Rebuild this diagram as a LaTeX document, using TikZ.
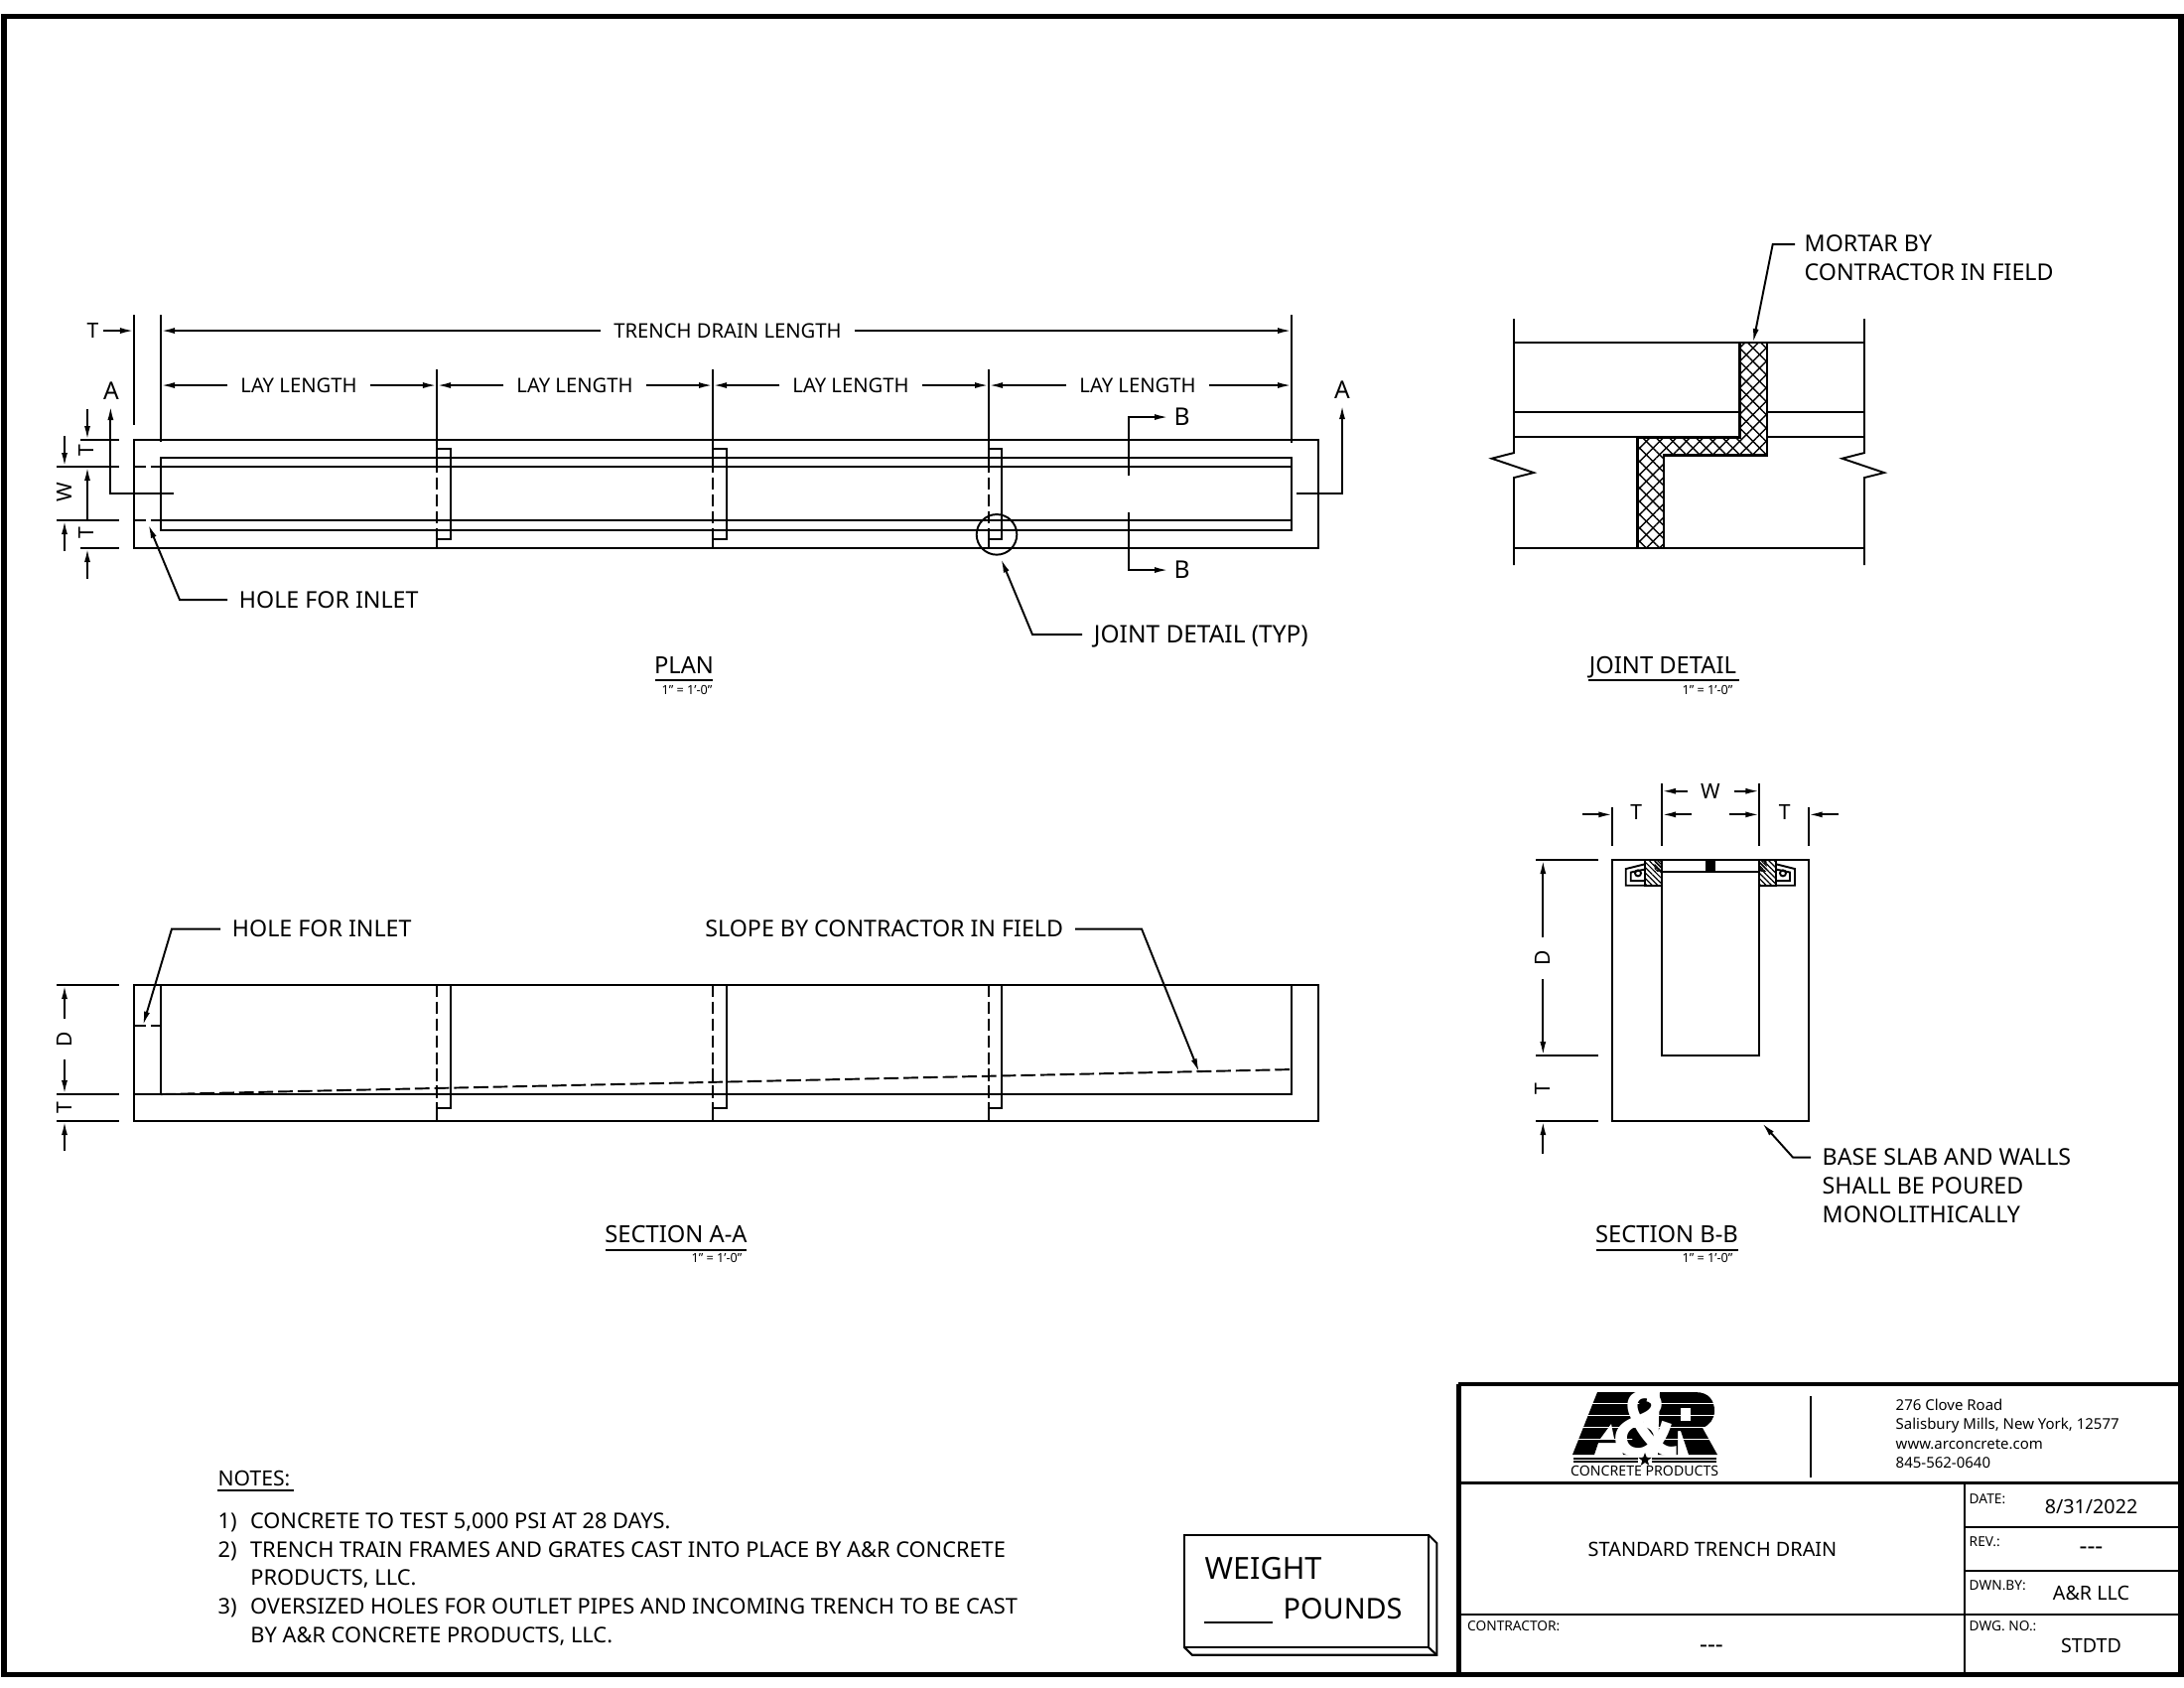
\documentclass[tikz,border=0pt]{standalone}
\usepackage{fontspec}
\setmainfont{Noto Sans}
\newfontfamily\logofont{Liberation Sans}
\usetikzlibrary{arrows.meta,patterns.meta,shapes.geometric}

\begin{document}
\begin{tikzpicture}[x=0.01cm, y=-0.01cm,
    every node/.style={font=\fontsize{6}{8.3}\selectfont, inner sep=0pt},
    obj/.style={line width=0.55pt},
    dimline/.style={line width=0.55pt, -{Latex[length=1.4mm,width=0.6mm]}},
    hiddenline/.style={line width=0.55pt, dash pattern=on 3.5pt off 1.3pt},
    lbl/.style={font=\fontsize{5.75}{7}\selectfont, text height=4.2pt, text depth=0pt, outer sep=3.7pt},
    tightlbl/.style={text height=4.3pt, text depth=0pt, outer sep=1.4pt},
    bare/.style={text height=4.3pt, text depth=0pt},
    cutmark/.style={font=\fontsize{7}{8}\selectfont, text height=5pt, text depth=0pt},
    call/.style={font=\fontsize{6.6}{8.3}\selectfont, text height=4.7pt, text depth=0pt, outer sep=3.4pt},
    callblock/.style={font=\fontsize{6.6}{8.3}\selectfont, anchor=north west, align=left},
    viewtitle/.style={font=\fontsize{6.75}{8}\selectfont, text height=4.8pt, text depth=0pt},
    scalenote/.style={font=\fontsize{3.6}{4}\selectfont},
    smalltag/.style={font=\fontsize{3.9}{5}\selectfont, anchor=west},
    blockval/.style={font=\fontsize{5.6}{7}\selectfont},
    blankval/.style={font=\fontsize{7}{8}\selectfont},
    addr/.style={font=\fontsize{4.26}{5.55}\selectfont, align=left, anchor=north west},
    bigword/.style={anchor=west, text height=6.4pt, text depth=0pt},
]
    \useasboundingbox (0,0) rectangle (2200,1700);
    \begin{scope}[yshift=-0.3pt]

    % Sheet frame
    \draw[line width=1.45pt] (4,15.5) rectangle (2197,1685);

    % Plan
    \draw[obj] (135,442) rectangle (1328,551);
    \draw[obj] (162,460) rectangle (1301,533);
    \draw[obj] (162,469) -- (1301,469);
    \draw[obj] (162,523) -- (1301,523);
    \draw[hiddenline] (135,469) -- (162,469);
    \draw[hiddenline] (135,523) -- (162,523);

    % Plan joints
    \draw[obj] (440,371) -- (440,463);
    \draw[hiddenline] (440,463) -- (440,537);
    \draw[obj] (440,537) -- (440,551);
    \draw[obj] (440,451) -- (454,451) -- (454,542) -- (440,542);

    \draw[obj] (718,371) -- (718,463);
    \draw[hiddenline] (718,463) -- (718,537);
    \draw[obj] (718,537) -- (718,551);
    \draw[obj] (718,451) -- (732,451) -- (732,542) -- (718,542);

    \draw[obj] (996,371) -- (996,463);
    \draw[hiddenline] (996,463) -- (996,537);
    \draw[obj] (996,537) -- (996,551);
    \draw[obj] (996,451) -- (1009,451) -- (1009,542) -- (996,542);
    \draw[obj] (1004,537.3) circle (20.3);

    % Plan length dimensions
    \draw[obj] (135,316) -- (135,427);
    \draw[obj] (162,316) -- (162,444);
    \draw[obj] (1301,316) -- (1301,445);

    \node[tightlbl] (planWallT) at (93.6,332) {T};
    \draw[dimline] (planWallT.east) -- (135,332);

    \node[lbl] (drainLen) at (733,332) {TRENCH DRAIN LENGTH};
    \draw[dimline] (drainLen.west) -- (162,332);
    \draw[dimline] (drainLen.east) -- (1301,332);

    \node[lbl] (layOne) at (301,387) {LAY LENGTH};
    \draw[dimline] (layOne.west) -- (162,387);
    \draw[dimline] (layOne.east) -- (440,387);
    \node[lbl] (layTwo) at (579,387) {LAY LENGTH};
    \draw[dimline] (layTwo.west) -- (440,387);
    \draw[dimline] (layTwo.east) -- (718,387);
    \node[lbl] (layThree) at (857,387) {LAY LENGTH};
    \draw[dimline] (layThree.west) -- (718,387);
    \draw[dimline] (layThree.east) -- (996,387);
    \node[lbl] (layFour) at (1146,387) {LAY LENGTH};
    \draw[dimline] (layFour.west) -- (996,387);
    \draw[dimline] (layFour.east) -- (1301,387);

    % Plan width dimensions
    \draw[obj] (81,442) -- (120,442);
    \draw[obj] (57,469) -- (120,469);
    \draw[obj] (57,523) -- (120,523);
    \draw[obj] (81,551) -- (120,551);
    \draw[dimline] (88,411) -- (88,442);
    \draw[dimline] (88,582) -- (88,551);
    \draw[dimline] (65,438) -- (65,469);
    \draw[dimline] (65,554) -- (65,523);
    \draw[dimline, {Latex[length=1.4mm,width=0.6mm]}-] (88,469) -- (88,523);
    \node[rotate=90, bare] (planTopT) at (87,453) {T};
    \node[rotate=90, bare] (planBotT) at (87,536) {T};
    \node[rotate=90, bare] (planW) at (64.5,495) {W};

    % Section marks
    \node[cutmark] (markAleft) at (112,393) {A};
    \draw[dimline] (175,496) -- (111.4,496) -- (111.4,408);
    \node[cutmark] (markAright) at (1352,392) {A};
    \draw[dimline] (1306,496) -- (1352,496) -- (1352,407);
    \node[cutmark, anchor=west] (markBtop) at (1182,419) {B};
    \draw[dimline] (1137,478) -- (1137,419) -- (1177,419);
    \node[cutmark, anchor=west] (markBbot) at (1182,573) {B};
    \draw[dimline] (1137,515) -- (1137,573) -- (1177,573);

    % Plan leaders
    \node[call, anchor=west] (holePlan) at (229,603) {HOLE FOR INLET};
    \draw[dimline] (holePlan.west) -- (181,603) -- (149.4,527);
    \node[call, anchor=west, font=\fontsize{6.95}{8.3}\selectfont] (jointCall) at (1090,638) {JOINT DETAIL (TYP)};
    \draw[dimline] (jointCall.west) -- (1040,638) -- (1008.3,561.7);

    % Plan title
    \node[viewtitle] (planTitle) at (689,669) {PLAN};
    \draw[obj] (660,684) -- (718,684);
    \node[scalenote] (planScale) at (692,694) {1" = 1'-0"};

    % Joint detail
    \draw[obj] (1525,320) -- (1525,455) -- (1502.7,460.7) -- (1545,475) -- (1525,480) -- (1525,568);
    \draw[obj] (1878,320) -- (1878,455) -- (1855.7,460.7) -- (1898,475) -- (1878,480) -- (1878,568);
    \draw[obj] (1525,344) -- (1878,344);
    \draw[obj] (1525,414) -- (1752.7,414);
    \draw[obj] (1780,414) -- (1878,414);
    \draw[obj] (1525,439.3) -- (1649.7,439.3);
    \draw[obj] (1780,439.3) -- (1878,439.3);
    \draw[obj] (1525,551) -- (1878,551);
    \fill[pattern={Lines[angle=45,distance=2.7pt,line width=0.4pt]}]
        (1752.7,344) -- (1780,344) -- (1780,457.3) -- (1676,457.3) -- (1676,551) -- (1649.7,551) -- (1649.7,439.3) -- (1752.7,439.3) -- cycle;
    \fill[pattern={Lines[angle=-45,distance=2.7pt,line width=0.4pt]}]
        (1752.7,344) -- (1780,344) -- (1780,457.3) -- (1676,457.3) -- (1676,551) -- (1649.7,551) -- (1649.7,439.3) -- (1752.7,439.3) -- cycle;
    \draw[line width=0.75pt]
        (1752.7,344) -- (1780,344) -- (1780,457.3) -- (1676,457.3) -- (1676,551) -- (1649.7,551) -- (1649.7,439.3) -- (1752.7,439.3) -- cycle;

    \node[callblock] (mortarCall) at (1817,235) {MORTAR BY\\CONTRACTOR IN FIELD};
    \coordinate (mortarFree) at (1808,245);
    \draw[dimline] (mortarFree) -- (1785.7,245) -- (1766,344);

    \node[viewtitle] (jointTitle) at (1675,669) {JOINT DETAIL};
    \draw[obj] (1600,684) -- (1752,684);
    \node[scalenote] (jointScale) at (1720,694) {1" = 1'-0"};

    % Section A-A
    \draw[obj] (135,991) rectangle (1328,1128);
    \draw[obj] (135,1101) -- (1301,1101) -- (1301,991);
    \draw[obj] (162,991) -- (162,1101);
    \draw[hiddenline] (135,1032.3) -- (162,1032.3);
    \draw[hiddenline, dash pattern=on 4.2pt off 1.4pt] (162,1101) -- (1301,1076);

    \draw[hiddenline] (440,991) -- (440,1115);
    \draw[obj] (440,1115) -- (440,1128);
    \draw[obj] (454,991) -- (454,1115) -- (440,1115);
    \draw[hiddenline] (718,991) -- (718,1115);
    \draw[obj] (718,1115) -- (718,1128);
    \draw[obj] (732,991) -- (732,1115) -- (718,1115);
    \draw[hiddenline] (996,991) -- (996,1115);
    \draw[obj] (996,1115) -- (996,1128);
    \draw[obj] (1009,991) -- (1009,1115) -- (996,1115);

    % Section A-A depth
    \draw[obj] (57,991) -- (120,991);
    \draw[obj] (57,1101) -- (120,1101);
    \draw[obj] (57,1128) -- (120,1128);
    \node[rotate=90, lbl, font=\fontsize{6}{8}\selectfont] (secDepth) at (65,1045.7) {D};
    \draw[dimline] (secDepth.east) -- (65,991);
    \draw[dimline] (secDepth.west) -- (65,1101);
    \node[rotate=90, bare] (secSlabT) at (65,1115) {T};
    \draw[dimline] (65,1158) -- (65,1128);

    % Section A-A leaders
    \node[call, anchor=west] (holeSec) at (222,934.5) {HOLE FOR INLET};
    \draw[dimline] (holeSec.west) -- (173,934.5) -- (144,1031.7);
    \node[call, anchor=east] (slopeCall) at (1083,934.5) {SLOPE BY CONTRACTOR IN FIELD};
    \draw[dimline] (slopeCall.east) -- (1150,934.5) -- (1208,1079);

    \node[viewtitle] (secATitle) at (681,1242) {SECTION A-A};
    \draw[obj] (610,1258) -- (752,1258);
    \node[scalenote] (secAScale) at (722,1266) {1" = 1'-0"};

    % Section B-B
    \draw[obj] (1624.3,865) rectangle (1821.7,1128);
    \draw[obj] (1674,876.7) rectangle (1772.3,1062);
    \fill (1718.3,865) rectangle (1728,876.7);

    % Grate seats
    \fill[pattern={Lines[angle=-45,distance=1.1pt,line width=0.35pt]}] (1656.7,865) rectangle (1674,891);
    \fill[pattern={Lines[angle=-45,distance=0.7pt,line width=0.35pt]}] (1666.7,865) rectangle (1674,876.7);
    \draw[obj] (1656.7,865) rectangle (1674,891);
    \draw[obj] (1656.7,869.3) -- (1637.7,874) -- (1637.7,890.7) -- (1656.7,890.7);
    \draw[obj] (1656.7,874.5) -- (1642.7,877.5) -- (1642.7,886) -- (1656.7,886);
    \draw[obj] (1650,878.3) circle (3);

    \fill[pattern={Lines[angle=-45,distance=1.1pt,line width=0.35pt]}] (1772.3,865) rectangle (1789.3,891);
    \fill[pattern={Lines[angle=-45,distance=0.7pt,line width=0.35pt]}] (1772.3,865) rectangle (1779.5,876.7);
    \draw[obj] (1772.3,865) rectangle (1789.3,891);
    \draw[obj] (1789.3,869.3) -- (1808,874) -- (1808,890.7) -- (1789.3,890.7);
    \draw[obj] (1789.3,874.5) -- (1803,877.5) -- (1803,886) -- (1789.3,886);
    \draw[obj] (1796,878.3) circle (3);

    % Section B-B top dimensions
    \draw[obj] (1674,787.7) -- (1674,851);
    \draw[obj] (1772.3,787.7) -- (1772.3,851);
    \draw[obj] (1624.3,811.7) -- (1624.3,851);
    \draw[obj] (1821.7,811.7) -- (1821.7,851);
    \node[bare] (bbW) at (1723,795.7) {W};
    \draw[dimline] (1700,795.7) -- (1674,795.7);
    \draw[dimline] (1746.7,795.7) -- (1772.3,795.7);
    \node[bare] (bbLeftT) at (1648.3,817) {T};
    \draw[dimline] (1594,819.3) -- (1624.3,819.3);
    \draw[dimline] (1704,819.3) -- (1674,819.3);
    \node[bare] (bbRightT) at (1797.7,817) {T};
    \draw[dimline] (1741.7,819.3) -- (1772.3,819.3);
    \draw[dimline] (1852,819.3) -- (1821.7,819.3);

    % Section B-B side dimensions
    \draw[obj] (1547,865) -- (1610,865);
    \draw[obj] (1547,1062) -- (1610,1062);
    \draw[obj] (1547,1128) -- (1610,1128);
    \node[rotate=90, lbl, font=\fontsize{6}{8}\selectfont] (bbDepth) at (1554.3,964) {D};
    \draw[dimline] (bbDepth.east) -- (1554.3,865);
    \draw[dimline] (bbDepth.west) -- (1554.3,1062);
    \node[rotate=90, bare] (bbSlabT) at (1554.3,1096) {T};
    \draw[dimline] (1554.3,1161) -- (1554.3,1128);

    % Section B-B leader
    \node[callblock] (baseCall) at (1835,1155) {BASE SLAB AND WALLS\\SHALL BE POURED\\MONOLITHICALLY};
    \coordinate (baseFree) at (1824,1164.5);
    \draw[dimline] (baseFree) -- (1806,1164.5) -- (1775,1130);

    \node[viewtitle] (secBTitle) at (1679,1242) {SECTION B-B};
    \draw[obj] (1608,1258) -- (1751,1258);
    \node[scalenote] (secBScale) at (1720,1266) {1" = 1'-0"};

    % Notes
    \node[bare, anchor=west] (notesHead) at (219,1488) {NOTES:};
    \draw[obj] (219,1500) -- (296,1500);
    \node[anchor=north west, align=left, font=\fontsize{6.2}{8.15}\selectfont] (notesBody) at (219,1522) {%
        1)\hspace{2.2pt}\ CONCRETE TO TEST 5,000 PSI AT 28 DAYS.\\
        2)\hspace{2.2pt}\ TRENCH TRAIN FRAMES AND GRATES CAST INTO PLACE BY A\&R CONCRETE\\
        \hspace*{9.3pt}PRODUCTS, LLC.\\
        3)\hspace{2.2pt}\ OVERSIZED HOLES FOR OUTLET PIPES AND INCOMING TRENCH TO BE CAST\\
        \hspace*{9.3pt}BY A\&R CONCRETE PRODUCTS, LLC.};

    % Weight box
    \draw[line width=0.6pt] (1193.3,1545) rectangle (1439.3,1658.3);
    \draw[line width=0.6pt] (1439.3,1545) -- (1447.3,1553) -- (1447.3,1665.7) -- (1201,1665.7) -- (1193.3,1658.3);
    \draw[line width=0.6pt] (1439.3,1658.3) -- (1447.3,1665.7);
    \node[bigword, font=\fontsize{8.7}{10}\selectfont] (weightWord) at (1213,1578) {WEIGHT};
    \node[bigword, font=\fontsize{8.2}{10}\selectfont] (poundsWord) at (1292,1618) {POUNDS};
    \draw[line width=0.6pt] (1213,1633) -- (1282,1633);

    % Title block
    \draw[line width=1.25pt] (1469.4,1393) -- (2197,1393);
    \draw[line width=1.25pt] (1469.4,1393) -- (1469.4,1685);
    \draw[line width=0.8pt] (1469.4,1492.7) -- (2197,1492.7);
    \draw[line width=0.7pt] (1979,1492.7) -- (1979,1685);
    \draw[line width=0.7pt] (1979,1536.7) -- (2197,1536.7);
    \draw[line width=0.7pt] (1979,1580.7) -- (2197,1580.7);
    \draw[line width=0.8pt] (1469.4,1625) -- (2197,1625);
    \draw[line width=0.6pt] (1824.3,1405) -- (1824.3,1487);

    % Logo
    \fill (1584,1464) -- (1609,1401) -- (1660,1401) -- (1650,1464) -- (1635,1464) -- (1632,1452) -- (1610,1452) -- (1606,1464) -- cycle;
    \fill[white] (1612,1448) -- (1626,1448) -- (1623,1433) -- cycle;
    \fill (1670,1464) -- (1672,1401) -- (1708,1401) .. controls (1722,1401) and (1727,1410) .. (1727,1420) .. controls (1727,1428) and (1722,1434) .. (1715,1437) -- (1730,1464) -- (1701,1464) -- (1693,1440) -- (1690,1440) -- (1690,1464) -- cycle;
    \fill[white] (1693,1417) rectangle (1703,1430);
    \draw[white, line width=0.12pt] (1582,1412) -- (1732,1412);
    \draw[white, line width=0.12pt] (1582,1424) -- (1732,1424);
    \draw[white, line width=0.12pt] (1582,1436) -- (1732,1436);
    \draw[white, line width=0.12pt] (1582,1448) -- (1732,1448);
    \fill (1657,1418) circle (8);
    \fill (1655,1447) circle (11);
    \node[font=\logofont\bfseries\fontsize{27}{27}\selectfont, text=white] (logoAmp) at (1658,1433) {\&};
    \draw[line width=0.35pt] (1585,1468) -- (1650,1468);
    \draw[line width=0.35pt] (1585,1471) -- (1650,1471);
    \draw[line width=0.35pt] (1664,1468) -- (1729,1468);
    \draw[line width=0.35pt] (1664,1471) -- (1729,1471);
    \node[star, star points=5, star point ratio=2.4, fill, minimum size=4pt] (logoStar) at (1657,1469) {};
    \node[font=\fontsize{4.02}{5}\selectfont] (logoWord) at (1656.7,1480) {CONCRETE PRODUCTS};

    % Title block text
    \node[addr] (address) at (1909,1407) {276 Clove Road\\Salisbury Mills, New York, 12577\\www.arconcrete.com\\845-562-0640};
    \node[font=\fontsize{5.65}{7}\selectfont] (drawingName) at (1725,1559) {STANDARD TRENCH DRAIN};
    \node[smalltag] (dateTag) at (1983,1509) {DATE:};
    \node[smalltag] (revTag) at (1983,1552) {REV.:};
    \node[smalltag] (dwnTag) at (1983,1596) {DWN.BY:};
    \node[smalltag] (dwgTag) at (1983,1637) {DWG. NO.:};
    \node[smalltag] (contractorTag) at (1477.5,1637) {CONTRACTOR:};
    \node[blockval] (dateVal) at (2106.5,1516) {8/31/2022};
    \node[blankval] (revVal) at (2106.5,1561) {-{}-{}-};
    \node[blockval] (dwnVal) at (2106.5,1603) {A\&R LLC};
    \node[blockval] (dwgVal) at (2106.5,1656) {STDTD};
    \node[blankval] (contractorVal) at (1724,1660) {-{}-{}-};
    \end{scope}
\end{tikzpicture}
\end{document}
